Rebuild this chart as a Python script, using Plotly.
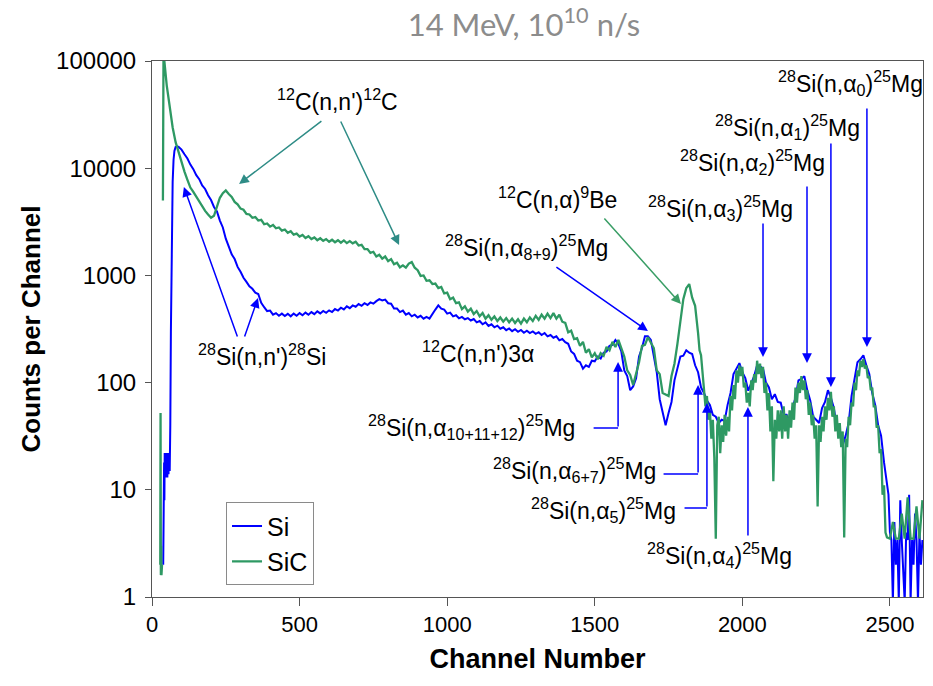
import plotly.graph_objects as go

# ---------------- data ----------------
x_tick_values = [0, 500, 1000, 1500, 2000, 2500]
y_tick_values = [1, 10, 100, 1000, 10000, 100000]
y_tick_labels = ["1", "10", "100", "1000", "10000", "100000"]

# Si spectrum
si_channel = ([38, 39, 40, 41, 42, 43, 44, 45, 46, 47, 48, 49, 50, 51, 52, 53, 54, 55,
               56, 57, 58, 59, 60, 61, 62, 64, 66, 68, 70, 73, 76, 80, 85]
              + list(range(90, 2491, 10)) + list(range(2495, 2611, 5)))
si_counts = [2, 13, 5, 18, 8, 22, 10, 20, 14, 22, 13, 21, 15, 22, 13, 20, 15, 22,
             14, 21, 16, 20, 15, 22, 40, 300, 1500, 4000, 7500, 12000, 14500, 15800, 16000,
             # 90 - 1880
             15800, 14900, 13500, 12300, 10800, 9800, 8600, 7900, 6900, 6400,
             5600, 5050, 4350, 3950, 3250, 2800, 2200, 1880, 1570, 1420,
             1200, 1080, 950, 870, 790, 750, 690, 670, 555, 505,
             465, 470, 430, 445, 420, 440, 418, 438, 415, 440,
             420, 445, 425, 450, 430, 455, 435, 462, 442, 466,
             448, 472, 455, 485, 470, 500, 482, 515, 495, 525,
             510, 540, 520, 550, 530, 560, 545, 575, 600, 585,
             595, 550, 545, 490, 490, 455, 470, 430, 445, 415,
             430, 405, 420, 395, 410, 395, 440, 480, 525, 490,
             480, 440, 450, 415, 425, 398, 410, 390, 400, 380,
             392, 365, 375, 350, 365, 338, 350, 328, 340, 318,
             328, 308, 320, 302, 315, 298, 310, 292, 305, 290,
             300, 285, 295, 278, 290, 270, 278, 262, 270, 248,
             255, 238, 230, 195, 185, 160, 155, 135, 145, 140,
             160, 158, 175, 168, 190, 195, 220, 225, 250, 230,
             195, 130, 115, 85, 92, 110, 175, 210, 270, 270,
             250, 170, 125, 70, 52, 40, 52, 66, 105, 135,
             175, 178, 200, 190, 185, 145, 125, 90, 80, 68,
             # 1890 - 2490
             62, 50, 48, 42, 45, 44, 62, 80, 120, 135,
             152, 125, 110, 84, 100, 115, 145, 142, 135, 100,
             90, 70, 78, 66, 65, 50, 50, 44, 58, 72,
             105, 108, 115, 85, 68, 48, 45, 42, 58, 66,
             85, 72, 58, 38, 34, 26, 32, 42, 75, 105,
             155, 165, 180, 145, 120, 80, 62, 40, 32, 18,
             12,
             # 2495 - 2610
             9, 4, 3.4, 0.9, 5, 2, 3.4, 0.9, 8, 3.4, 2, 0.9,
             4, 3.4, 9, 0.9, 3.4, 2, 6, 3.4, 0.9, 4, 2, 3.4]

# SiC spectrum
sic_channel = ([28, 29, 30, 31, 32, 33, 34, 35, 37, 39]
               + list(range(50, 1841, 10))
               + list(range(1850, 2491, 5))
               + list(range(2500, 2611, 10)))
sic_counts = [2, 52, 1.6, 3, 1.6, 3, 2, None, 5000, 120000,
              # 50 - 1840
              59000, 37500, 24000, 17500, 14000, 11000, 9300, 7800, 6600, 6000,
              5400, 4900, 4450, 4000, 3700, 3450, 3600, 4300, 5300, 5850,
              6200, 5750, 5400, 4850, 4600, 4200, 4100, 3750, 3700, 3450,
              3500, 3250, 3300, 3000, 3050, 2850, 2950, 2750, 2800, 2620,
              2680, 2500, 2580, 2400, 2450, 2300, 2380, 2230, 2320, 2180,
              2260, 2130, 2220, 2100, 2180, 2060, 2150, 2040, 2130, 2020,
              2120, 2000, 2090, 1990, 2060, 1900, 1930, 1760, 1760, 1620,
              1660, 1500, 1560, 1430, 1500, 1360, 1420, 1270, 1310, 1190,
              1240, 1180, 1290, 1330, 1180, 1120, 990, 1000, 890, 900,
              830, 840, 760, 780, 680, 690, 600, 620, 550, 560,
              485, 515, 460, 490, 435, 465, 415, 445, 395, 425,
              385, 415, 375, 405, 370, 400, 365, 395, 360, 390,
              355, 395, 365, 405, 375, 420, 385, 430, 395, 440,
              400, 445, 395, 430, 370, 360, 295, 305, 255, 260,
              220, 240, 190, 205, 172, 188, 165, 188, 178, 215,
              200, 240, 215, 250, 205, 175, 130, 118, 95, 125,
              155, 220, 225, 265, 235, 210, 130, 120, 80, 78,
              75, 115, 150, 230, 360, 600, 760, 830, 620, 520,
              # 1850 - 2490 (every 5 channels)
              290, 200, 180, 120, 95, 60, 75, 45, 55, 30,
              45, 20, 3.5, 40, 48, 22, 40, 28, 50, 32,
              48, 35, 75, 55, 95, 70, 130, 100, 145, 115,
              140, 90, 100, 65, 80, 60, 105, 85, 120, 100,
              160, 120, 150, 110, 140, 80, 100, 55, 80, 35,
              60, 12, 45, 30, 55, 35, 55, 30, 60, 35,
              50, 30, 55, 38, 65, 45, 90, 65, 100, 80,
              115, 85, 105, 70, 85, 50, 65, 40, 50, 30,
              40, 7, 40, 28, 48, 35, 60, 45, 72, 55,
              82, 48, 60, 35, 50, 30, 42, 25, 35, 3.6,
              30, 25, 48, 40, 65, 60, 100, 85, 130, 115,
              160, 140, 165, 135, 145, 110, 115, 85, 90, 60,
              60, 38, 40, 22, 24, 9, 11, 4, 3.6,
              # 2500 - 2610
              3.5, 5, 3.5, 3.5, 6, 3.5, 8.5, 3.5, 3.5, 7, 3.5, 8]

# ---------------- annotations (channel, log10 counts) ----------------
labels = [
    ("<sup>12</sup>C(n,n')<sup>12</sup>C", 627, 4.636),
    ("<sup>28</sup>Si(n,n')<sup>28</sup>Si", 373, 2.257),
    ("<sup>12</sup>C(n,n')3α", 1104, 2.285),
    ("<sup>12</sup>C(n,α)<sup>9</sup>Be", 1375, 3.722),
    ("<sup>28</sup>Si(n,α<sub>8+9</sub>)<sup>25</sup>Mg", 1270, 3.265),
    ("<sup>28</sup>Si(n,α<sub>0</sub>)<sup>25</sup>Mg", 2368, 4.795),
    ("<sup>28</sup>Si(n,α<sub>1</sub>)<sup>25</sup>Mg", 2154, 4.384),
    ("<sup>28</sup>Si(n,α<sub>2</sub>)<sup>25</sup>Mg", 2033, 4.058),
    ("<sup>28</sup>Si(n,α<sub>3</sub>)<sup>25</sup>Mg", 1927, 3.629),
    ("<sup>28</sup>Si(n,α<sub>10+11+12</sub>)<sup>25</sup>Mg", 1081, 1.586),
    ("<sup>28</sup>Si(n,α<sub>6+7</sub>)<sup>25</sup>Mg", 1430, 1.185),
    ("<sup>28</sup>Si(n,α<sub>5</sub>)<sup>25</sup>Mg", 1528, 0.812),
    ("<sup>28</sup>Si(n,α<sub>4</sub>)<sup>25</sup>Mg", 1924, 0.392),
]

TEAL = "#2E8C86"
BLUE = "#0000FF"
GREEN = "#3A9E66"
# (tail x, tail log y, head x, head log y, colour, has head)
arrows = [
    (579, 4.45, 295, 3.853, TEAL, True),
    (637, 4.45, 837, 3.284, TEAL, True),
    (291, 2.416, 108, 3.825, BLUE, True),
    (312, 2.416, 359, 2.789, BLUE, True),
    (1528, 3.545, 1792, 2.733, GREEN, True),
    (1365, 3.088, 1680, 2.481, BLUE, True),
    (2422, 4.571, 2422, 2.332, BLUE, True),
    (2300, 4.244, 2300, 1.959, BLUE, True),
    (2219, 3.843, 2219, 2.183, BLUE, True),
    (2070, 3.498, 2070, 2.239, BLUE, True),
    (1491, 1.576, 1579, 1.576, BLUE, False),
    (1579, 1.576, 1579, 2.192, BLUE, True),
    (1728, 1.147, 1850, 1.147, BLUE, False),
    (1850, 1.147, 1850, 1.978, BLUE, True),
    (1799, 0.830, 1880, 0.830, BLUE, False),
    (1880, 0.830, 1880, 1.810, BLUE, True),
    (2019, 0.560, 2019, 1.772, BLUE, True),
]

# ---------------- figure ----------------
fig = go.Figure()
fig.add_trace(go.Scatter(x=si_channel, y=si_counts, mode="lines", name="Si",
                         line=dict(color="#0000FF", width=2.0), connectgaps=False))
fig.add_trace(go.Scatter(x=sic_channel, y=sic_counts, mode="lines", name="SiC",
                         line=dict(color="#2E9963", width=2.3), connectgaps=False))

ann = []
for text, x, ly in labels:
    ann.append(dict(text=text, x=x, y=ly, xref="x", yref="y", showarrow=False,
                    xanchor="center", yanchor="middle",
                    font=dict(family="Liberation Sans, Arial, sans-serif", size=23, color="black")))
for tx, ty, hx, hy, col, head in arrows:
    ann.append(dict(text="", x=hx, y=hy, ax=tx, ay=ty, xref="x", yref="y",
                    axref="x", ayref="y", showarrow=True,
                    arrowhead=2 if head else 0, arrowsize=1.3, arrowwidth=1.5,
                    arrowcolor=col, standoff=0, startstandoff=0))

fig.update_layout(
    width=933, height=686,
    margin=dict(l=152, r=10, t=61, b=89),
    paper_bgcolor="white", plot_bgcolor="white",
    font=dict(family="Liberation Sans, Arial, sans-serif", color="black"),
    title=dict(text="14 MeV, 10<sup>10</sup> n/s", x=0.5616, xanchor="center",
               y=0.963, yanchor="middle",
               font=dict(family="Lato, Open Sans, sans-serif", size=31, color="#8C8C8C")),
    showlegend=True,
    legend=dict(x=0.096, y=0.177, xanchor="left", yanchor="top",
                bordercolor="#8A8A8A", borderwidth=1, bgcolor="white",
                font=dict(size=25), tracegroupgap=0, itemwidth=30),
    annotations=ann,
)

fig.update_xaxes(range=[0, 2612], tickmode="array", tickvals=x_tick_values,
                 ticks="outside", ticklen=8, tickcolor="#555555",
                 showline=True, linecolor="#555555", linewidth=1, mirror=True,
                 showgrid=False, zeroline=False, tickfont=dict(size=22),
                 title=dict(text="<b>Channel Number</b>", font=dict(size=27), standoff=12))
fig.update_yaxes(type="log", range=[0, 5], tickmode="array", tickvals=y_tick_values,
                 ticktext=y_tick_labels, ticks="outside", ticklen=6, tickcolor="#555555",
                 ticklabelstandoff=4,
                 showline=True, linecolor="#555555", linewidth=1, mirror=True,
                 showgrid=False, zeroline=False, tickfont=dict(size=24),
                 title=dict(text="<b>Counts per Channel</b>", font=dict(size=26), standoff=8))

fig.write_html("out.html")
